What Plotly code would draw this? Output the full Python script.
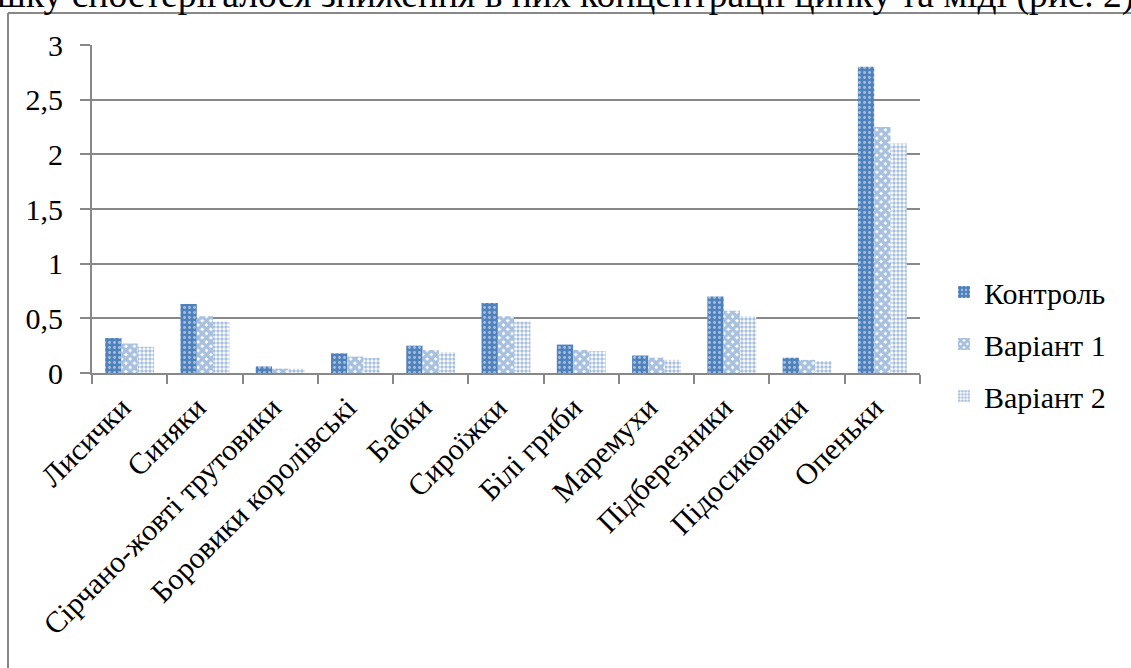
import plotly.graph_objects as go

categories = ["Лисички", "Синяки", "Сірчано-жовті трутовики", "Боровики королівські",
              "Бабки", "Сироїжки", "Білі гриби", "Маремухи", "Підберезники",
              "Підосиковики", "Опеньки"]
control = [0.32, 0.63, 0.06, 0.18, 0.25, 0.64, 0.26, 0.16, 0.70, 0.14, 2.80]
variant1 = [0.27, 0.52, 0.04, 0.15, 0.21, 0.52, 0.21, 0.14, 0.57, 0.12, 2.25]
variant2 = [0.24, 0.47, 0.04, 0.14, 0.19, 0.47, 0.20, 0.12, 0.52, 0.11, 2.10]
series_names = ["Контроль", "Варіант 1", "Варіант 2"]
y_ticks = [0, 0.5, 1, 1.5, 2, 2.5, 3]
caption = "шку спостерігалося зниження в них концентрації цинку та міді (рис. 2)"

BLUE = "#4F81BD"
GRID = "#888888"
FONT = "Liberation Serif"

patterns = [
    dict(shape=".", fgcolor="white", bgcolor=BLUE, size=5, solidity=0.25),
    dict(shape="x", fgcolor=BLUE, bgcolor="white", size=6, solidity=0.8),
    dict(shape=".", fgcolor=BLUE, bgcolor="white", size=4, solidity=0.6),
]

fig = go.Figure()
for i, (name, vals) in enumerate(zip(series_names, [control, variant1, variant2])):
    fig.add_trace(go.Bar(
        x=categories, y=vals, name=name, legendgroup=name,
        marker=dict(color=BLUE if i == 0 else "white", line=dict(width=0),
                    pattern=patterns[i]),
    ))

W, H = 1131, 668
L, R, T, B = 92, 211, 45, 295
pw, ph = W - L - R, H - T - B

def px_x(p):
    return (p - L) / pw

def px_y(p):
    return (H - B - p) / ph

fig.update_layout(
    width=W, height=H,
    margin=dict(l=L, r=R, t=T, b=B, pad=0, autoexpand=False),
    paper_bgcolor="white", plot_bgcolor="white",
    separators=", ",
    barmode="group", bargap=0.35, bargroupgap=0,
    font=dict(family=FONT, size=30, color="black"),
    showlegend=True,
    legend=dict(x=px_x(944), y=px_y(266), xanchor="left", yanchor="top",
                font=dict(family=FONT, size=30, color="black"),
                traceorder="grouped", tracegroupgap=10,
                bgcolor="rgba(0,0,0,0)"),
    xaxis=dict(type="category", tickson="boundaries", ticks="outside", ticklen=9,
               tickcolor=GRID, tickwidth=2, showline=True, linecolor=GRID, linewidth=2,
               tickangle=-45, showgrid=False, automargin=False,
               ticklabelshift=-8, ticklabelstandoff=3,
               tickfont=dict(family=FONT, size=30, color="black")),
    yaxis=dict(range=[0, 3], tickvals=y_ticks, ticks="outside", ticklen=10,
               tickcolor=GRID, tickwidth=2, showline=True, linecolor=GRID, linewidth=2,
               showgrid=True, gridcolor=GRID, gridwidth=2, zeroline=False,
               ticklabelstandoff=11, automargin=False,
               tickfont=dict(family=FONT, size=30, color="black")),
    shapes=[
        dict(type="line", xref="paper", yref="paper", x0=px_x(8), x1=px_x(1200),
             y0=px_y(13), y1=px_y(13), line=dict(color=GRID, width=2)),
        dict(type="line", xref="paper", yref="paper", x0=px_x(8), x1=px_x(8),
             y0=px_y(13), y1=px_y(700), line=dict(color=GRID, width=2)),
    ],
    annotations=[
        dict(text=caption, xref="paper", yref="paper", x=px_x(-5), y=px_y(18),
             xanchor="left", yanchor="bottom", showarrow=False,
             font=dict(family=FONT, size=37.5, color="black")),
    ],
)

fig.write_html("out.html", config={"displayModeBar": False},
               post_script="document.body.style.margin='0';document.body.style.overflow='hidden';")
